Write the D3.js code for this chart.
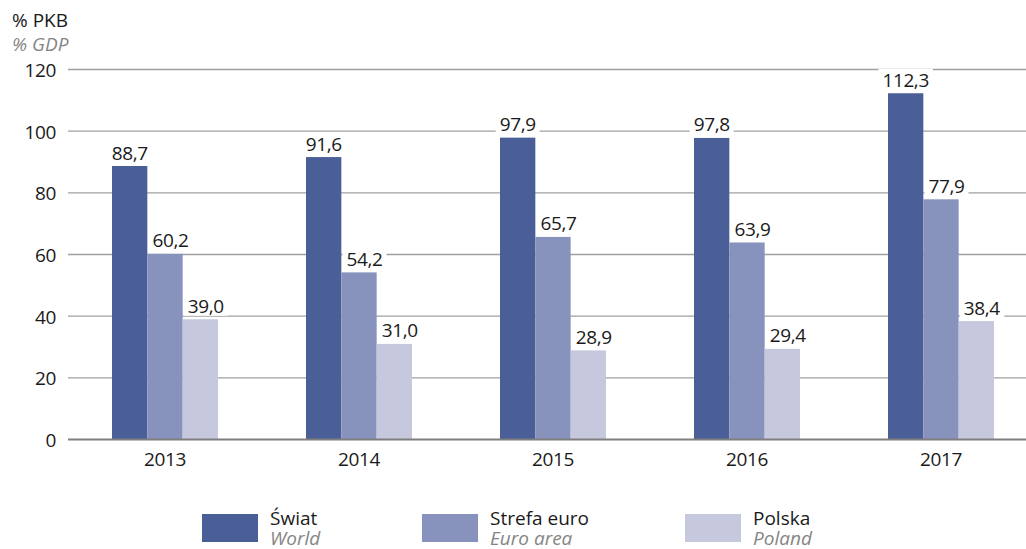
<!DOCTYPE html>
<html><head><meta charset="utf-8">
<script src="https://cdn.jsdelivr.net/npm/d3@7"></script>
<style>
body{margin:0;background:#fff;}
svg text{font-family:"Open Sans",sans-serif;}
svg text.num{letter-spacing:-0.4px;}
</style></head>
<body><svg id="c" width="1026" height="549"></svg>
<script>
const years = ["2013","2014","2015","2016","2017"];
const seriesKeys = ["world","euro","poland"];
const seriesPL = ["Świat","Strefa euro","Polska"];
const seriesEN = ["World","Euro area","Poland"];
const world = [88.7, 91.6, 97.9, 97.8, 112.3];
const euro = [60.2, 54.2, 65.7, 63.9, 77.9];
const poland = [39.0, 31.0, 28.9, 29.4, 38.4];
const yTicks = [0,20,40,60,80,100,120];
const colors = ["#4a5e97","#8893bd","#c6c8de"];

const values = {world, euro, poland};
const svg = d3.select("#c");
const x0 = d3.scaleBand().domain(years).range([68,1038]).padding(0);
const x1 = d3.scaleBand().domain(seriesKeys).range([44,150]).padding(0);
const y = d3.scaleLinear().domain([0,120]).range([439.5,69.5]);
const FS = 19;

// gridlines
svg.append("g").selectAll("line").data(yTicks.filter(t=>t>0)).join("line")
  .attr("x1",68).attr("x2",1026).attr("y1",d=>y(d)).attr("y2",d=>y(d))
  .attr("stroke","#a0a0a0").attr("stroke-width",1.3);

// y tick labels
svg.append("g").selectAll("text").data(yTicks).join("text").attr("class","num")
  .attr("x",56).attr("y",d=>y(d)+7.5).attr("text-anchor","end")
  .attr("font-size",FS).attr("fill","#1a1a1a").text(d=>d);

// axis titles
svg.append("text").attr("x",12).attr("y",27).attr("font-size",FS).attr("fill","#1a1a1a").text("% PKB");
svg.append("text").attr("x",12).attr("y",51).attr("font-size",FS).attr("font-style","italic").attr("fill","#858585").text("% GDP");

const data = [];
years.forEach((yr,i)=>seriesKeys.forEach((k,j)=>data.push({yr,k,j,v:values[k][i]})));

const fmt = v => v.toFixed(1).replace(".",",");

const boxLayer = svg.append("g");
// bars
svg.append("g").selectAll("rect").data(data).join("rect")
  .attr("x",d=>x0(d.yr)+x1(d.k)).attr("width",x1.bandwidth())
  .attr("y",d=>y(d.v)).attr("height",d=>y(0)-y(d.v))
  .attr("fill",d=>colors[d.j]);

// baseline
svg.append("line").attr("x1",68).attr("x2",1026).attr("y1",y(0)).attr("y2",y(0))
  .attr("stroke","#7f7f7f").attr("stroke-width",2);

// value labels with white background (boxes behind bars, above gridlines)
const lg = svg.append("g");
data.forEach(d=>{
  const cx = x0(d.yr)+x1(d.k)+x1.bandwidth()/2 + (d.j>0?5.5:0);
  const base = y(d.v)-6.5;
  const t = lg.append("text").attr("class","num").attr("x",cx).attr("y",base).attr("text-anchor","middle")
    .attr("font-size",FS).attr("fill","#1a1a1a").text(fmt(d.v));
  const b = t.node().getBBox();
  boxLayer.append("rect").attr("x",b.x-4).attr("y",base-18).attr("width",b.width+8).attr("height",21).attr("fill","#fff");
});

// x labels
svg.append("g").selectAll("text").data(years).join("text").attr("class","num")
  .attr("x",d=>x0(d)+x0.bandwidth()/2).attr("y",465.5).attr("text-anchor","middle")
  .attr("font-size",FS).attr("fill","#1a1a1a").text(d=>d);

// legend
const legX = [202,422,685];
seriesKeys.forEach((k,j)=>{
  svg.append("rect").attr("x",legX[j]).attr("y",514).attr("width",56).attr("height",28).attr("fill",colors[j]);
  svg.append("text").attr("x",legX[j]+68).attr("y",525).attr("font-size",FS).attr("fill","#1a1a1a").text(seriesPL[j]);
  svg.append("text").attr("x",legX[j]+68).attr("y",545).attr("font-size",FS).attr("font-style","italic").attr("fill","#858585").text(seriesEN[j]);
});
</script></body></html>
